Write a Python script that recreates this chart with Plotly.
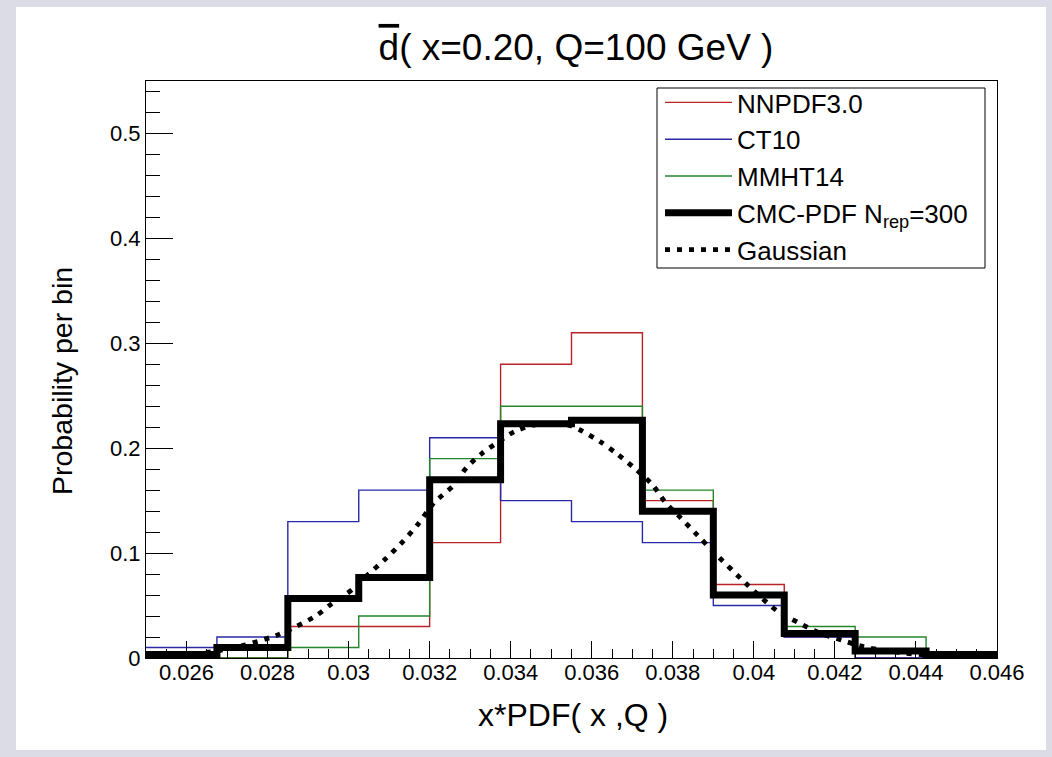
import plotly.graph_objects as go

# ---- data ----
bin_edges = [0.025, 0.02675, 0.0285, 0.03025, 0.032, 0.03375, 0.0355,
             0.03725, 0.039, 0.04075, 0.0425, 0.04425, 0.046]

nnpdf30 = [0.0, 0.0, 0.03, 0.03, 0.11, 0.28, 0.31, 0.15, 0.07, 0.02, 0.0, 0.0]
ct10    = [0.01, 0.02, 0.13, 0.16, 0.21, 0.15, 0.13, 0.11, 0.05, 0.02, 0.0, 0.0]
mmht14  = [0.0, 0.0, 0.01, 0.04, 0.19, 0.24, 0.24, 0.16, 0.06, 0.03, 0.02, 0.0]
cmc300  = [0.0033, 0.01, 0.0567, 0.0767, 0.17, 0.2233, 0.2267, 0.14, 0.06,
           0.0233, 0.0067, 0.0033]

gauss_x = [0.0250, 0.0258, 0.0266, 0.0274, 0.0282, 0.0287, 0.0292, 0.0296,
           0.0301, 0.0305, 0.0309, 0.0313, 0.0317, 0.0321, 0.0326, 0.0329,
           0.0333, 0.0338, 0.0341, 0.0346, 0.0350, 0.0354, 0.0357, 0.0362,
           0.0366, 0.0371, 0.0375, 0.0378, 0.0382, 0.0386, 0.0390, 0.0398,
           0.0402, 0.0406, 0.0411, 0.0416, 0.0422, 0.0427, 0.0433, 0.0442,
           0.0452, 0.0460]
gauss_y = [0.0012, 0.0027, 0.0058, 0.0120, 0.0213, 0.0299, 0.0404, 0.0522,
           0.0655, 0.0802, 0.0941, 0.1094, 0.1269, 0.1476, 0.1650, 0.1810,
           0.1953, 0.2087, 0.2160, 0.2223, 0.2235, 0.2223, 0.2176, 0.2064,
           0.1953, 0.1794, 0.1650, 0.1491, 0.1333, 0.1174, 0.1014, 0.0712,
           0.0570, 0.0442, 0.0337, 0.0242, 0.0166, 0.0108, 0.0067, 0.0030,
           0.0012, 0.0005]

series_names = ["NNPDF3.0", "CT10", "MMHT14", "CMC-PDF N<sub>rep</sub>=300"]
series_colors = ["#bb2228", "#2a2aa6", "#23862a", "#000000"]
series_widths = [1.4, 1.4, 1.4, 7]

FONT = "Liberation Sans, Arial, Helvetica, sans-serif"

fig = go.Figure()
for name, vals, col, w in zip(series_names, [nnpdf30, ct10, mmht14, cmc300],
                              series_colors, series_widths):
    fig.add_trace(go.Scatter(
        x=bin_edges, y=vals + [vals[-1]], mode="lines", name=name,
        line=dict(color=col, width=w, shape="hv"),
    ))

fig.add_trace(go.Scatter(
    x=gauss_x, y=gauss_y, mode="lines", name="Gaussian",
    line=dict(color="black", width=4.8, dash="5px,7px", shape="spline", smoothing=0.8),
))

W, H = 1052, 757
L, R, T, B = 146, 55, 81, 99
pw = W - L - R
ph = H - T - B

def px_x(p):
    return (p - L) / pw

def px_y(p):
    return (H - B - p) / ph

fig.update_layout(
    width=W, height=H,
    margin=dict(l=L, r=R, t=T, b=B),
    paper_bgcolor="#dcdce6",
    plot_bgcolor="white",
    font=dict(family=FONT, color="black"),
    title=dict(text="<span style='text-decoration:overline'>d</span>( x=0.20, Q=100 GeV )",
               font=dict(size=37, family=FONT),
               x=px_x(576), xanchor="center", xref="paper",
               y=1 - 47 / H, yanchor="middle", yref="container"),
    showlegend=True,
    legend=dict(
        x=px_x(660), xanchor="left", y=px_y(79), yanchor="top",
        bgcolor="rgba(0,0,0,0)", borderwidth=0,
        font=dict(size=26, family=FONT), itemwidth=67,
        tracegroupgap=0,
    ),
    shapes=[
        dict(type="rect", xref="paper", yref="paper", layer="below",
             x0=px_x(16), x1=px_x(1046), y0=px_y(750), y1=px_y(7),
             fillcolor="white", line=dict(width=0)),
        dict(type="rect", xref="paper", yref="paper", layer="above",
             x0=px_x(657), x1=px_x(985), y0=px_y(268), y1=px_y(88),
             fillcolor="white", line=dict(color="black", width=1)),
    ],
    annotations=[
        dict(text="x*PDF( x ,Q )", xref="paper", yref="paper",
             x=px_x(573), y=px_y(715), xanchor="center", yanchor="middle",
             showarrow=False, font=dict(size=32, family=FONT)),
        dict(text="Probability per bin", xref="paper", yref="paper",
             x=px_x(62), y=px_y(381), xanchor="center", yanchor="middle",
             textangle=-90, showarrow=False, font=dict(size=28.5, family=FONT)),
    ],
)

fig.update_xaxes(
    range=[0.025, 0.046], dtick=0.002, tick0=0.026,
    showgrid=False, zeroline=False,
    showline=True, linecolor="black", linewidth=1, mirror=True,
    ticks="inside", ticklen=17, tickwidth=1, tickcolor="black",
    tickfont=dict(size=22, family=FONT), ticklabelstandoff=-5,
    minor=dict(dtick=0.0005, ticks="inside", ticklen=9, tickcolor="black", tickwidth=1),
)
fig.update_yaxes(
    range=[0, 0.55], dtick=0.1,
    showgrid=False, zeroline=False,
    showline=True, linecolor="black", linewidth=1, mirror=True,
    ticks="inside", ticklen=27, tickwidth=1, tickcolor="black",
    tickfont=dict(size=22, family=FONT),
    minor=dict(dtick=0.02, ticks="inside", ticklen=14, tickcolor="black", tickwidth=1),
)

fig.write_html("out.html")
